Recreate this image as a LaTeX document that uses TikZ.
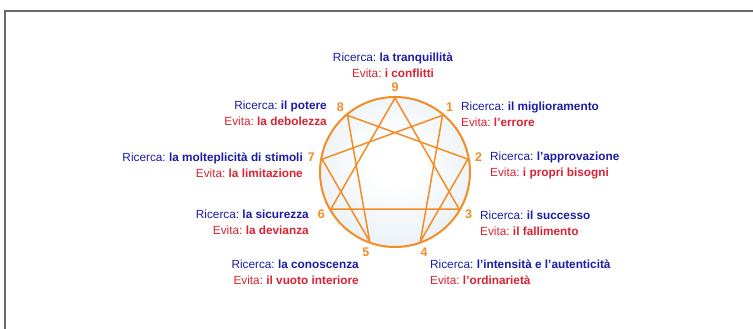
\documentclass[tikz,border=0pt]{standalone}
\usepackage{fontspec}
\setmainfont{Liberation Sans}
\frenchspacing
\definecolor{enorange}{RGB}{244,140,40}
\definecolor{enblue}{RGB}{28,28,165}
\definecolor{enred}{RGB}{214,36,52}
\definecolor{enfill}{RGB}{210,225,234}
\definecolor{frame}{RGB}{105,105,105}
\pgfdeclareradialshading{ennea}{\pgfpoint{0bp}{4bp}}{color(0bp)=(white); color(8bp)=(white); color(50bp)=(enfill); color(60bp)=(enfill)}
\newcommand{\ric}[1]{\textcolor{enblue}{Ricerca: \textbf{#1}}}
\newcommand{\evi}[1]{\textcolor{enred}{Evita: \textbf{#1}}}
\begin{document}
\begin{tikzpicture}[x=1pt,y=-1pt,
  lab/.style={font=\fontsize{11.8}{16}\selectfont, inner sep=0pt},
  num/.style={font=\fontsize{12.5}{12}\selectfont\bfseries, text=enorange, inner sep=0pt},
  star/.style={draw=enorange, line width=1.5pt, line join=round}]
\useasboundingbox (0,0) rectangle (753,329);
\fill[white] (0,0) rectangle (753,329);
\draw[frame, line width=1.2pt] (5,329) -- (5,11) -- (753,11);
\coordinate (c) at (395,172);
\foreach \k in {0,...,8}{
  \coordinate (p\k) at ({395+74*cos(90-40*\k)},{172-74*sin(90-40*\k)});
  \node[num] (n\k) at ({395+85*cos(90-40*\k)},{172-85*sin(90-40*\k)}) {\ifnum\k=0 9\else\k\fi};
}
\node[circle, minimum size=150pt, inner sep=0pt, shading=ennea] (circ) at (c) {};
\draw[star] (p0) -- (p3) -- (p6) -- cycle;
\draw[star] (p1) -- (p4) -- (p2) -- (p8) -- (p5) -- (p7) -- cycle;
\draw[enorange, line width=2pt] (c) circle (75);
% labels
\node[lab, align=center] (t9) at (393,65) {\ric{la tranquillità}\\\evi{i conflitti}};
\node[lab, align=right, anchor=east] (t8) at (327,113.5) {\ric{il potere}\\\evi{la debolezza}};
\node[lab, align=left, anchor=west] (t1) at (461,114.5) {\ric{il miglioramento}\\\evi{l’errore}};
\node[lab, align=right, anchor=east] (t7) at (303,165) {\ric{la molteplicità di stimoli}\\\evi{la limitazione}};
\node[lab, align=left, anchor=west] (t2) at (490,165) {\ric{l’approvazione}\\\evi{i propri bisogni}};
\node[lab, align=right, anchor=east] (t6) at (309,222) {\ric{la sicurezza}\\\evi{la devianza}};
\node[lab, align=left, anchor=west] (t3) at (480,223) {\ric{il successo}\\\evi{il fallimento}};
\node[lab, align=right, anchor=east] (t5) at (359,272) {\ric{la conoscenza}\\\evi{il vuoto interiore}};
\node[lab, align=left, anchor=west] (t4) at (430,272) {\ric{l’intensità e l’autenticità}\\\evi{l’ordinarietà}};
\end{tikzpicture}
\end{document}
